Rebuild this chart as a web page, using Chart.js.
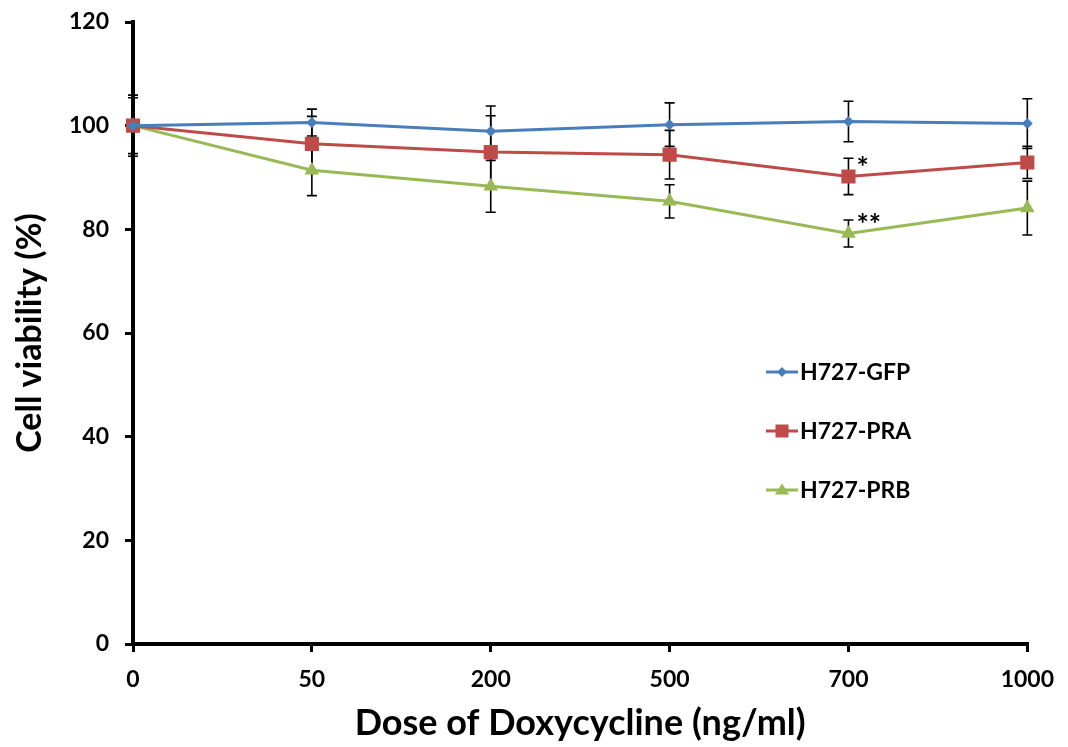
<!DOCTYPE html>
<html>
<head>
<meta charset="utf-8">
<script src="https://cdn.jsdelivr.net/npm/chart.js@4/dist/chart.umd.min.js"></script>
<style>
  html, body { margin: 0; padding: 0; background: #ffffff; }
  #wrap { width: 1068px; height: 747px; position: relative; }
</style>
</head>
<body>
<div id="wrap"><canvas id="c"></canvas></div>
<script>
// ---- data ----
const doses = ['0', '50', '200', '500', '700', '1000'];
const seriesNames = ['H727-GFP', 'H727-PRA', 'H727-PRB'];
const gfpValues = [100, 100.6, 98.9, 100.2, 100.8, 100.4];
const gfpErrors = [5.9, 2.6, 4.9, 4.2, 3.9, 4.8];
const praValues = [100, 96.5, 94.9, 94.4, 90.2, 92.9];
const praErrors = [5.4, 5.3, 7.0, 4.7, 3.5, 3.1];
const prbValues = [100, 91.4, 88.3, 85.4, 79.2, 84.1];
const prbErrors = [1.0, 4.9, 5.0, 3.2, 2.6, 5.2];
const yTicks = [0, 20, 40, 60, 80, 100, 120];
const significance = [
  { dataset: 1, index: 4, text: '*' },
  { dataset: 2, index: 4, text: '**' }
];
const xTitle = 'Dose of Doxycycline (ng/ml)';
const yTitle = 'Cell viability (%)';

const colors = ['#4a7ebb', '#be4b48', '#98b954'];
const shapes = ['rectRot', 'rect', 'triangle'];
const radii = [5.5, 10, 8.5];
const FONT = 'Lato, "Open Sans", sans-serif';

const errorSets = [gfpErrors, praErrors, prbErrors];

const errorBarPlugin = {
  id: 'errorBars',
  beforeDatasetsDraw(chart) {
    const ctx = chart.ctx;
    const xs = chart.scales.x, ys = chart.scales.y;
    ctx.save();
    ctx.strokeStyle = '#000';
    ctx.lineWidth = 1.6;
    chart.data.datasets.forEach((ds, di) => {
      ds.data.forEach((v, i) => {
        const e = errorSets[di][i];
        const x = xs.getPixelForValue(i);
        const yT = ys.getPixelForValue(v + e);
        const yB = ys.getPixelForValue(v - e);
        ctx.beginPath();
        ctx.moveTo(x, yT); ctx.lineTo(x, yB);
        ctx.moveTo(x - 5, yT); ctx.lineTo(x + 5, yT);
        ctx.moveTo(x - 5, yB); ctx.lineTo(x + 5, yB);
        ctx.stroke();
      });
    });
    ctx.restore();
  }
};

function drawMarker(ctx, shape, x, y, r, color) {
  ctx.fillStyle = color;
  ctx.beginPath();
  if (shape === 'rectRot') {
    ctx.moveTo(x, y - r); ctx.lineTo(x + r, y); ctx.lineTo(x, y + r); ctx.lineTo(x - r, y);
  } else if (shape === 'rect') {
    ctx.rect(x - r, y - r, 2 * r, 2 * r);
  } else {
    ctx.moveTo(x, y - r); ctx.lineTo(x + r * 1.1, y + r * 0.7); ctx.lineTo(x - r * 1.1, y + r * 0.7);
  }
  ctx.closePath();
  ctx.fill();
}

const annotationPlugin = {
  id: 'annot',
  afterDatasetsDraw(chart) {
    const ctx = chart.ctx;
    const xs = chart.scales.x, ys = chart.scales.y;
    ctx.save();
    // significance marks
    ctx.fillStyle = '#000';
    ctx.font = 'bold 29px ' + FONT;
    ctx.textAlign = 'left';
    ctx.textBaseline = 'middle';
    significance.forEach(s => {
      const v = chart.data.datasets[s.dataset].data[s.index];
      const x = xs.getPixelForValue(s.index);
      const y = ys.getPixelForValue(v);
      ctx.fillText(s.text, x + 8, y - 9);
    });
    // legend
    const lx0 = 766, lx1 = 798, ly = [372, 431, 490];
    chart.data.datasets.forEach((ds, di) => {
      const y = ly[di];
      ctx.strokeStyle = colors[di];
      ctx.lineWidth = 3;
      ctx.beginPath(); ctx.moveTo(lx0, y); ctx.lineTo(lx1, y); ctx.stroke();
      drawMarker(ctx, shapes[di], (lx0 + lx1) / 2, y, [5, 6.5, 6.5][di], colors[di]);
      ctx.fillStyle = '#000';
      ctx.font = 'bold 23px ' + FONT;
      ctx.textAlign = 'left';
      ctx.textBaseline = 'middle';
      ctx.fillText(ds.label, 800, y + 1);
    });
    ctx.restore();
  }
};

const datasets = [gfpValues, praValues, prbValues].map((vals, i) => ({
  label: seriesNames[i],
  data: vals,
  borderColor: colors[i],
  backgroundColor: colors[i],
  borderWidth: 3,
  pointStyle: shapes[i],
  pointRadius: radii[i],
  pointHoverRadius: radii[i],
  pointBorderWidth: 0,
  tension: 0
}));

new Chart(document.getElementById('c'), {
  type: 'line',
  data: { labels: doses, datasets },
  plugins: [errorBarPlugin, annotationPlugin],
  options: {
    responsive: true,
    maintainAspectRatio: false,
    animation: false,
    events: [],
    layout: { padding: { top: 22, right: 38, left: 0, bottom: 0 } },
    plugins: { legend: { display: false }, tooltip: { enabled: false } },
    scales: {
      x: {
        type: 'category',
        offset: false,
        border: { display: true, color: '#000', width: 4 },
        grid: { drawOnChartArea: false, drawTicks: true, tickLength: 8, color: '#000', lineWidth: 3 },
        ticks: { color: '#000', font: { family: FONT, size: 23, weight: 'bold' }, padding: 14, maxRotation: 0 },
        title: { display: true, text: xTitle, color: '#000', font: { family: FONT, size: 36, weight: 'bold' }, padding: { top: 0, bottom: 2 } },
        afterFit: s => { s.height = 103; }
      },
      y: {
        min: 0, max: 120,
        afterBuildTicks: s => { s.ticks = yTicks.map(v => ({ value: v })); },
        border: { display: true, color: '#000', width: 4 },
        grid: { drawOnChartArea: false, drawTicks: true, tickLength: 8, color: '#000', lineWidth: 3 },
        ticks: { color: '#000', font: { family: FONT, size: 23, weight: 'bold', lineHeight: 0.5 }, padding: 16 },
        title: { display: true, text: yTitle, color: '#000', font: { family: FONT, size: 34, weight: 'bold' }, padding: { top: 10, bottom: 0 } },
        afterFit: s => { s.width = 133; }
      }
    }
  }
});
</script>
</body>
</html>
